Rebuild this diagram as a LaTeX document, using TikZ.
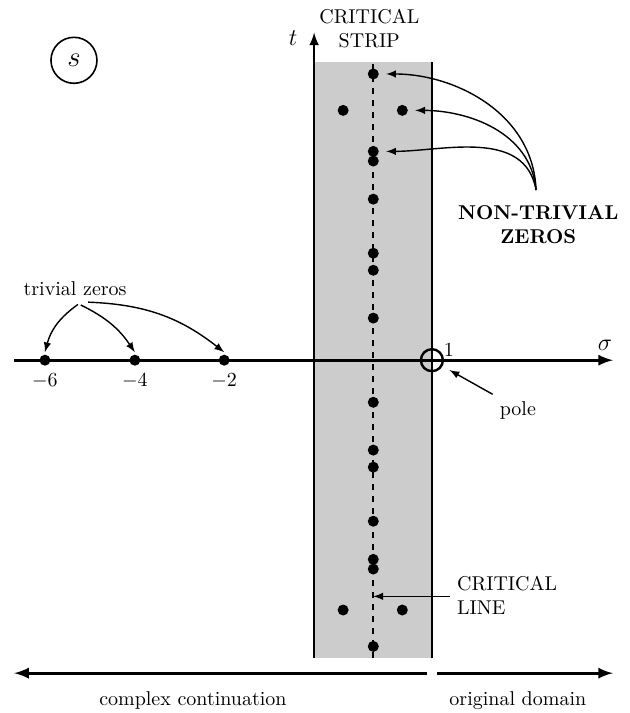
\documentclass[tikz,border=0pt]{standalone}
\begin{document}
\begin{tikzpicture}[
  zero/.style={circle,fill,inner sep=0pt,minimum size=5.5pt},
  axis/.style={line width=1.5pt,-latex},
  edge/.style={line width=1.2pt},
  note/.style={line width=0.7pt,-latex}]
\useasboundingbox (-5.52,-6.20) rectangle (5.55,6.33);
% critical strip
\fill[gray!40] (0,-5.24) rectangle (2.07,5.24);
\draw[dashed,line width=0.8pt] (1.04,-5.24) -- (1.04,5.24);
\draw[edge] (2.07,-5.24) -- (2.07,5.24);
\draw[edge,-latex] (0,-5.24) -- (0,5.76);
\draw[axis] (-5.27,0) -- (5.25,0);
\node at (-0.37,5.66) {\large$t$};
\node at (5.11,0.26) {\large$\sigma$};
\node[align=center] (strip) at (0.97,5.83) {CRITICAL\\STRIP};
\node[circle,draw,line width=0.8pt,minimum size=23pt,inner sep=0pt] (plane) at (-4.22,5.27) {\Large$s$};
% zeros on the critical line
\foreach \y [count=\i] in {5.03,3.67,3.50,2.83,1.88,1.58,0.74} {
  \node[zero] (up\i) at (1.04,\y) {};
  \node[zero] (dn\i) at (1.04,-\y) {};
}
\node[zero] (ul) at (0.51,4.39) {};
\node[zero] (ur) at (1.55,4.39) {};
\node[zero] (ll) at (0.51,-4.39) {};
\node[zero] (lr) at (1.55,-4.39) {};
% trivial zeros
\node[zero] (z6) at (-4.73,0) {};
\node[zero] (z4) at (-3.15,0) {};
\node[zero] (z2) at (-1.58,0) {};
\node at (-4.73,-0.37) {$-6$};
\node at (-3.15,-0.37) {$-4$};
\node at (-1.58,-0.37) {$-2$};
\node (triv) at (-4.2,1.26) {trivial zeros};
\draw[note] (-4.15,0.98) to[bend right=20] (-4.73,0.14);
\draw[note] (-4.1,0.97) to[bend left=15] (-3.15,0.14);
\draw[note] (-3.97,1.02) to[bend left=18] (-1.58,0.14);
% pole
\node[circle,draw,line width=1.2pt,minimum size=11pt,inner sep=0pt] (polemark) at (2.07,0) {};
\node at (2.37,0.19) {1};
\node (pole) at (3.58,-0.88) {pole};
\draw[note,shorten >=4pt] (pole.north west) -- (polemark);
% non-trivial zeros
\node[align=center,font=\bfseries] (ntz) at (3.94,2.39) {NON-TRIVIAL\\ZEROS};
\coordinate (ntztop) at (3.90,2.99);
\draw[note,shorten >=3.5pt] (ntztop) to[out=92,in=0] (up1.east);
\draw[note,shorten >=3.5pt] (ntztop) to[out=95,in=0] (ur.east);
\draw[note,shorten >=3.5pt] (ntztop) to[out=100,in=0] (up2.east);
% critical line
\node[anchor=west,align=left] (cline) at (2.39,-4.13) {CRITICAL\\LINE};
\coordinate (cpt) at (1.04,-4.15);
\draw[note] (cline.west |- cpt) -- (cpt);
% domains
\coordinate (cl) at (1.99,-5.50);
\coordinate (cr) at (2.16,-5.50);
\draw[axis] (cl) -- (-5.27,-5.50);
\draw[axis] (cr) -- (5.25,-5.50);
\node (cont) at (-2.13,-5.98) {complex continuation};
\node (orig) at (3.58,-5.98) {original domain};
\end{tikzpicture}
\end{document}
